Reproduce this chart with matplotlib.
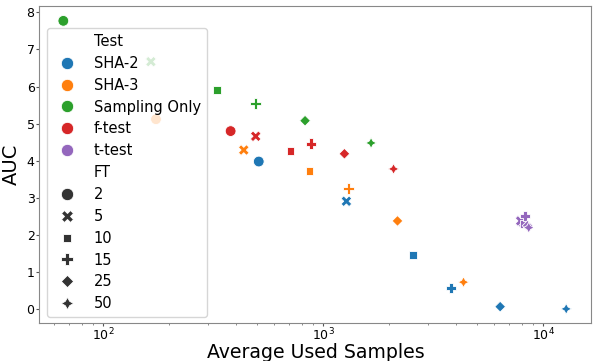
import matplotlib
matplotlib.use("Agg")
import matplotlib.pyplot as plt
import seaborn as sns
import pandas as pd

tests = ["SHA-2", "SHA-3", "Sampling Only", "f-test", "t-test"]
ft_levels = [2, 5, 10, 15, 25, 50]

sha2_x = [510, 1276, 2557, 3817, 6379, 12730]
sha2_y = [3.98, 2.91, 1.46, 0.57, 0.07, 0.01]
sha3_x = [174, 436, 869, 1303, 2178, 4346]
sha3_y = [5.12, 4.29, 3.73, 3.25, 2.38, 0.73]
samp_x = [66, 165, 330, 494, 828, 1652]
samp_y = [7.77, 6.67, 5.90, 5.54, 5.08, 4.48]
ftest_x = [380, 494, 710, 882, 1250, 2090]
ftest_y = [4.80, 4.66, 4.27, 4.46, 4.19, 3.78]
ttest_x = [8100, 7900, 8200, 8280, 8500, 8600]
ttest_y = [2.33, 2.38, 2.30, 2.51, 2.25, 2.20]

series = {
    "SHA-2": (sha2_x, sha2_y),
    "SHA-3": (sha3_x, sha3_y),
    "Sampling Only": (samp_x, samp_y),
    "f-test": (ftest_x, ftest_y),
    "t-test": (ttest_x, ttest_y),
}

rows = []
for t in tests:
    xs, ys = series[t]
    for ft, xv, yv in zip(ft_levels, xs, ys):
        rows.append({"Test": t, "FT": ft, "Average Used Samples": xv, "AUC": yv})
df = pd.DataFrame(rows)

fig = plt.figure(figsize=(5.98, 3.61), dpi=100)
ax = fig.add_axes([38.7 / 598, 1 - 323 / 361, (591 - 38.7) / 598, (323 - 6) / 361])
sns.scatterplot(data=df, x="Average Used Samples", y="AUC", hue="Test",
                style="FT", hue_order=tests, s=60, ax=ax, legend="full")
ax.set_xscale("log")
ax.set_xlim(51, 16500)
ax.set_ylim(-0.37, 8.17)
ax.set_xlabel("Average Used Samples", fontsize=13.6)
ax.set_ylabel("AUC", fontsize=14)
ax.xaxis.set_label_coords(0.501, -0.064)
ax.tick_params(which="major", labelsize=9, color="#555555", length=2, pad=1.0)
ax.tick_params(which="minor", color="#777777", length=1.5)
for sp in ax.spines.values():
    sp.set_color("#888888")
leg = ax.legend(loc="upper left", bbox_to_anchor=(0.015, 0.93), borderaxespad=0,
                fontsize=10.5, markerscale=1.15, framealpha=0.8, labelspacing=0.47)
fig.savefig("out.png", dpi=100)
